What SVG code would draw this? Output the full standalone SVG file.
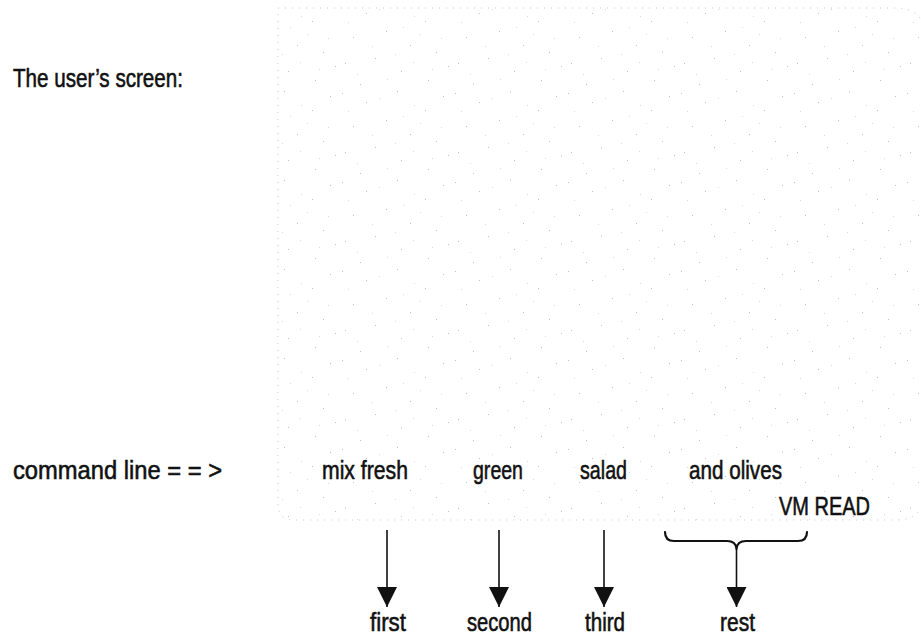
<svg xmlns="http://www.w3.org/2000/svg" width="921" height="635" viewBox="0 0 921 635">
  <style>
    .lbl { font-family: "Liberation Sans", Arial, sans-serif; font-size: 25px; fill: #111; stroke: #111; stroke-width: 0.55; }
    .wire { stroke: #111; stroke-width: 1.6; fill: none; }
    .brace { stroke: #111; stroke-width: 2.2; fill: none; stroke-linecap: round; stroke-linejoin: round; }
  </style>
  <defs>
    <!-- sparse, irregular grey speckle for the screen area -->
    <pattern id="speckle" width="113" height="89" patternUnits="userSpaceOnUse">
      <g fill="#c2c2c2">
        <rect x="3" y="4" width="1" height="1"/>
        <rect x="27" y="13" width="1" height="1"/>
        <rect x="58" y="2" width="1" height="1"/>
        <rect x="86" y="21" width="1" height="1"/>
        <rect x="104" y="7" width="1" height="1"/>
        <rect x="14" y="37" width="1" height="1"/>
        <rect x="47" y="31" width="1" height="1"/>
        <rect x="71" y="45" width="1" height="1"/>
        <rect x="97" y="52" width="1" height="1"/>
        <rect x="6" y="63" width="1" height="1"/>
        <rect x="36" y="58" width="1" height="1"/>
        <rect x="62" y="71" width="1" height="1"/>
        <rect x="89" y="80" width="1" height="1"/>
        <rect x="21" y="84" width="1" height="1"/>
        <rect x="109" y="66" width="1" height="1"/>
      </g>
      <g fill="#dadada">
        <rect x="40" y="9" width="1" height="1"/>
        <rect x="75" y="16" width="1" height="1"/>
        <rect x="9" y="22" width="1" height="1"/>
        <rect x="33" y="46" width="1" height="1"/>
        <rect x="56" y="54" width="1" height="1"/>
        <rect x="81" y="34" width="1" height="1"/>
        <rect x="102" y="38" width="1" height="1"/>
        <rect x="18" y="74" width="1" height="1"/>
        <rect x="48" y="79" width="1" height="1"/>
        <rect x="74" y="62" width="1" height="1"/>
        <rect x="93" y="69" width="1" height="1"/>
        <rect x="64" y="27" width="1" height="1"/>
      </g>
    </pattern>
    <marker id="head" markerUnits="userSpaceOnUse" markerWidth="20" markerHeight="20" viewBox="0 0 18 18" refX="18" refY="9" orient="auto">
      <path d="M0,0 L18,9 L0,18 Z" fill="#111"/>
    </marker>
  </defs>

  <rect width="921" height="635" fill="#fff"/>

  <!-- the screen -->
  <g id="screen">
    <path d="M278,8 H896 Q925,8 925,38 V490 Q925,520 896,520 H294 Q278,520 278,504 Z" fill="url(#speckle)" stroke="#c8c8c8" stroke-width="1" stroke-dasharray="1 6"/>
  </g>

  <g id="title">
    <text class="lbl" x="13" y="87" font-size="26" textLength="170" lengthAdjust="spacingAndGlyphs">The user’s screen:</text>
  </g>

  <g id="prompt">
    <text class="lbl" x="13" y="479" textLength="209" lengthAdjust="spacingAndGlyphs">command line = = &gt;</text>
  </g>

  <g id="word-mix-fresh"><text class="lbl" x="322" y="479" textLength="86" lengthAdjust="spacingAndGlyphs">mix fresh</text></g>
  <g id="word-green"><text class="lbl" x="473" y="479" textLength="50" lengthAdjust="spacingAndGlyphs">green</text></g>
  <g id="word-salad"><text class="lbl" x="580" y="479" textLength="47" lengthAdjust="spacingAndGlyphs">salad</text></g>
  <g id="word-and-olives"><text class="lbl" x="689" y="479" textLength="93" lengthAdjust="spacingAndGlyphs">and olives</text></g>
  <g id="vm-read"><text class="lbl" x="779" y="515" textLength="91" lengthAdjust="spacingAndGlyphs">VM READ</text></g>

  <g id="var-first"><text class="lbl" x="370" y="631" textLength="36" lengthAdjust="spacingAndGlyphs">first</text></g>
  <g id="var-second"><text class="lbl" x="467" y="631" textLength="65" lengthAdjust="spacingAndGlyphs">second</text></g>
  <g id="var-third"><text class="lbl" x="585" y="631" textLength="40" lengthAdjust="spacingAndGlyphs">third</text></g>
  <g id="var-rest"><text class="lbl" x="720" y="631" textLength="35" lengthAdjust="spacingAndGlyphs">rest</text></g>

  <g id="connectors">
    <line class="wire" x1="387" y1="530" x2="387" y2="607" marker-end="url(#head)"/>
    <line class="wire" x1="499" y1="530" x2="499" y2="607" marker-end="url(#head)"/>
    <line class="wire" x1="604" y1="530" x2="604" y2="607" marker-end="url(#head)"/>
    <path class="brace" d="M665,532 Q665,541 674,541 H727 Q736,541 736.5,549 Q737,541 746,541 H798 Q807,541 807,532"/>
    <line class="wire" x1="736.5" y1="549" x2="736.5" y2="607" marker-end="url(#head)"/>
  </g>
</svg>
